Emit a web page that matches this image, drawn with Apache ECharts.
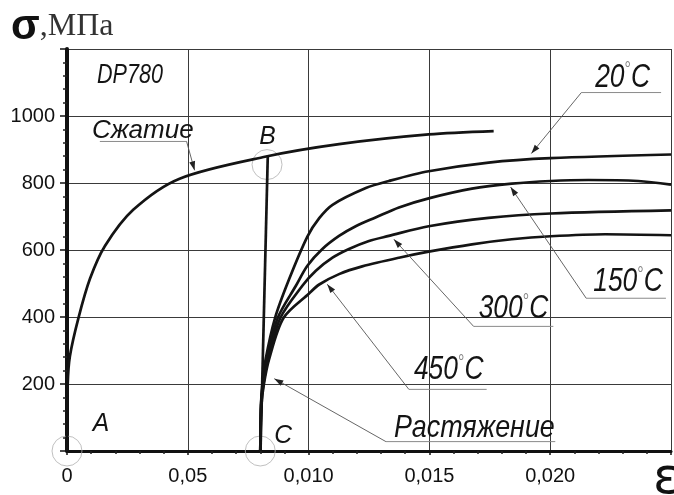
<!DOCTYPE html>
<html>
<head>
<meta charset="utf-8">
<script src="https://cdn.jsdelivr.net/npm/echarts@6/dist/echarts.min.js"></script>
<style>
html, body { margin: 0; padding: 0; background: #fff; }
#Echarts { width: 674px; height: 495px; }
</style>
</head>
<body>
<div id="Echarts"></div>
<script>
// DP780: сжатие / растяжение
var xTickLabels = ['0', '0,05', '0,010', '0,015', '0,020', ''];
var yHidden = [0, 1200];

// кривая сжатия
var compression = [[0, 0], [0.00003, 200], [0.00012, 283], [0.00047, 396], [0.00095, 514],
    [0.00157, 612], [0.00274, 720], [0.00466, 813], [0.00824, 879], [0.01126, 916],
    [0.01497, 945], [0.01766, 955]];
// разгрузка B -> C
var unloadBC = [[0.00831, 880], [0.00801, 0]];
// растяжение при разных температурах
var t20 = [[0.008, 0], [0.00803, 138], [0.00809, 200], [0.00822, 273], [0.00861, 397],
    [0.0092, 514], [0.00995, 640], [0.01044, 695], [0.01099, 735], [0.01237, 785],
    [0.01332, 806], [0.01497, 835], [0.01745, 861], [0.02002, 874], [0.025, 885]];
var t150 = [[0.008, 0], [0.00803, 138], [0.00811, 200], [0.00828, 273], [0.00872, 397],
    [0.00948, 494], [0.00995, 553], [0.01057, 603], [0.01126, 642], [0.01195, 671],
    [0.01277, 697], [0.01374, 727], [0.01497, 754], [0.01676, 783], [0.01841, 798],
    [0.02002, 806], [0.02158, 809], [0.02364, 806], [0.025, 795]];
var t300 = [[0.008, 0], [0.00804, 138], [0.00813, 200], [0.00832, 273], [0.00883, 397],
    [0.00975, 494], [0.0103, 538], [0.01099, 577], [0.01167, 603], [0.0125, 627],
    [0.01332, 642], [0.01497, 671], [0.01745, 696], [0.02002, 709], [0.025, 718]];
var t450 = [[0.008, 0], [0.00805, 138], [0.00815, 200], [0.00836, 273], [0.00896, 397],
    [0.01002, 470], [0.01044, 497], [0.01126, 528], [0.01222, 551], [0.01374, 577],
    [0.01497, 595], [0.01676, 617], [0.01841, 632], [0.02002, 641], [0.02227, 647],
    [0.025, 644]];

// точки A, B, C
var markPts = [[0, 0], [0.00828, 855], [0.008, 0]];
var markNames = ['A', 'B', 'C'];
var markTextAt = [[0.00107, 59], [0.00796, 918], [0.00858, 25]];

// выноски: текст, начало текста, полка, стрелка
var calloutText = ['Сжатие', '20{d|°}C', '150{d|°}C', '300{d|°}C', '450{d|°}C', 'Растяжение'];
var calloutTextAt = [[0.00103, 935], [0.02186, 1090], [0.02178, 479], [0.01704, 400], [0.01436, 216], [0.01353, 44]];
var calloutShelf = [[0.00136, 0.00495, 924], [0.02129, 0.02459, 1070], [0.02149, 0.02479, 456],
    [0.01683, 0.02013, 372], [0.01415, 0.01737, 184], [0.0132, 0.02021, 28]];
var calloutTip = [[0.00528, 838], [0.01922, 888], [0.01836, 788], [0.01353, 632], [0.01077, 498], [0.00858, 216]];
var calloutSize = [26, 33, 33, 33, 33, 32];
var calloutScale = [1, 0.8, 0.8, 0.8, 0.8, 0.84];

var font = "'Liberation Sans', Arial, sans-serif";

var myChart = echarts.init(document.getElementById('Echarts'));

function curve(data) {
    return {
        type: 'line',
        data: data,
        smooth: 0.3,
        showSymbol: false,
        silent: true,
        lineStyle: { color: '#141414', width: 2.7 },
        z: 5
    };
}

var option = {
    animation: false,
    grid: { left: 67, right: 1, top: 49, bottom: 44 },
    xAxis: {
        type: 'value',
        min: 0,
        max: 0.025,
        interval: 0.005,
        axisLine: { onZero: false, lineStyle: { color: '#111', width: 3 } },
        axisTick: { show: true, length: 4, lineStyle: { color: '#111', width: 1.5 } },
        minorTick: { show: true, splitNumber: 5, length: 3, lineStyle: { color: '#222', width: 1.5 } },
        splitLine: { show: true, lineStyle: { color: '#3a3a3a', width: 1 } },
        axisLabel: {
            fontFamily: font,
            fontSize: 20,
            color: '#111',
            margin: 15,
            formatter: function (v) { return xTickLabels[Math.round(v / 0.005)]; }
        }
    },
    yAxis: {
        type: 'value',
        min: 0,
        max: 1200,
        interval: 200,
        axisLine: { show: true, onZero: false, lineStyle: { color: '#111', width: 4 } },
        axisTick: { show: true, length: 7, lineStyle: { color: '#111', width: 1.5 } },
        minorTick: { show: true, splitNumber: 5, length: 4, lineStyle: { color: '#222', width: 1.5 } },
        splitLine: { show: true, lineStyle: { color: '#3a3a3a', width: 1 } },
        axisLabel: {
            fontFamily: font,
            fontSize: 20,
            color: '#111',
            margin: 12,
            formatter: function (v) { return yHidden.indexOf(v) >= 0 ? '' : v; }
        }
    },
    series: [
        curve(compression),
        Object.assign(curve(unloadBC), { smooth: false }),
        curve(t20),
        curve(t150),
        curve(t300),
        curve(t450),
        {
            type: 'scatter',
            data: markPts,
            symbol: 'circle',
            symbolSize: 30,
            clip: false,
            silent: true,
            itemStyle: { color: 'rgba(0,0,0,0)', borderColor: '#b0b0b0', borderWidth: 1 },
            z: 4
        }
    ]
};

myChart.setOption(option);

// подписи и выноски
function px(p) { return myChart.convertToPixel({ gridIndex: 0 }, p); }

var gr = [];
var degRich = { d: { fontSize: 20, fontStyle: 'normal', fontFamily: font, fill: '#888', verticalAlign: 'top' } };

function label(text, at, size, sx) {
    var p = px(at);
    gr.push({
        type: 'text',
        x: p[0],
        y: p[1] + Math.round(size * 0.24),
        scaleX: sx || 1,
        z: 20,
        style: {
            text: text,
            x: 0, y: 0,
            fill: '#141414',
            font: 'italic ' + size + 'px ' + font,
            align: 'left',
            verticalAlign: 'bottom',
            rich: degRich
        }
    });
}

label('DP780', [0.00124, 1101], 28, 0.77);
for (var i = 0; i < markNames.length; i++) {
    label(markNames[i], markTextAt[i], 26, 0.95);
}

for (var k = 0; k < calloutText.length; k++) {
    label(calloutText[k], calloutTextAt[k], calloutSize[k], calloutScale[k]);
    var a = px([calloutShelf[k][0], calloutShelf[k][2]]);
    var b = px([calloutShelf[k][1], calloutShelf[k][2]]);
    var t = px(calloutTip[k]);
    // полка
    gr.push({ type: 'line', shape: { x1: a[0], y1: a[1], x2: b[0], y2: b[1] },
        style: { stroke: '#8a8a8a', lineWidth: 1 }, z: 15 });
    // выносная линия (у «Сжатие» от правого конца полки)
    var from = k === 0 ? b : a;
    gr.push({ type: 'line', shape: { x1: from[0], y1: from[1], x2: t[0], y2: t[1] },
        style: { stroke: '#555', lineWidth: 0.9 }, z: 15 });
    var ang = Math.atan2(t[1] - from[1], t[0] - from[0]);
    var L = 9, W = 3;
    var bx = t[0] - L * Math.cos(ang), by = t[1] - L * Math.sin(ang);
    gr.push({ type: 'polygon', shape: { points: [
        [t[0], t[1]],
        [bx + W * Math.sin(ang), by - W * Math.cos(ang)],
        [bx - W * Math.sin(ang), by + W * Math.cos(ang)]
    ] }, style: { fill: '#222' }, z: 16 });
}

// заголовки осей
gr.push({ type: 'text', left: 11, top: 6, z: 20, style: {
    text: '{s|σ}{u|,МПа}',
    rich: {
        s: { fontFamily: font, fontWeight: 'bold', fontSize: 42, fill: '#111' },
        u: { fontFamily: "'Liberation Serif', serif", fontSize: 32, fill: '#333' }
    }
} });
gr.push({ type: 'text', left: 653, top: 455, z: 20, style: {
    text: 'ε', fontFamily: 'DejaVu Sans', fontSize: 50, fill: '#111'
} });

myChart.setOption({ graphic: gr });
</script>
</body>
</html>
